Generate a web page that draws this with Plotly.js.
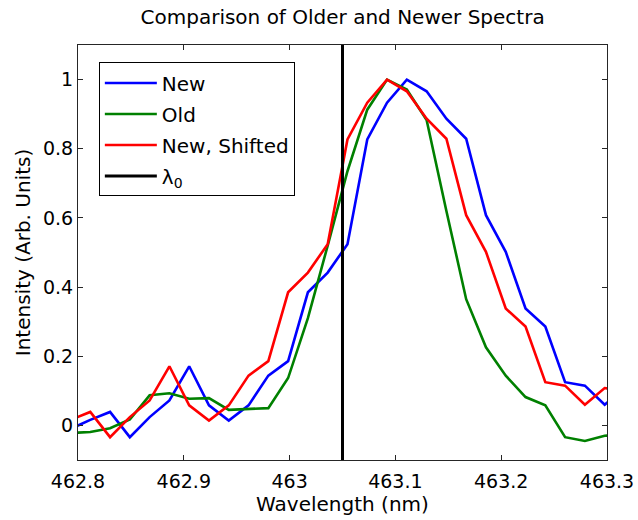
<!DOCTYPE html>
<html>
<head>
<meta charset="utf-8">
<script src="https://cdn.plot.ly/plotly-3.0.1.min.js"></script>
<style>html,body{margin:0;padding:0;background:#fff;}#chart{width:638px;height:520px;}</style>
</head>
<body>
<div id="chart"></div>
<script>
// Wavelength grid (nm)
const wavelength = [462.7929, 462.8116, 462.8303, 462.8490, 462.8677, 462.8864, 462.9051, 462.9238,
  462.9425, 462.9612, 462.9799, 462.9986, 463.0173, 463.0360, 463.0547, 463.0734, 463.0921,
  463.1108, 463.1295, 463.1482, 463.1669, 463.1856, 463.2043, 463.2230, 463.2417, 463.2604,
  463.2791, 463.2978, 463.3165];

const newValues = [-0.010, 0.016, 0.039, -0.034, 0.024, 0.072, 0.171, 0.058, 0.014, 0.058, 0.144,
  0.186, 0.385, 0.442, 0.524, 0.827, 0.933, 1.000, 0.966, 0.887, 0.829, 0.608, 0.502, 0.338,
  0.286, 0.125, 0.115, 0.060, 0.108];

const oldValues = [-0.022, -0.019, -0.008, 0.017, 0.087, 0.093, 0.077, 0.079, 0.045, 0.047, 0.050,
  0.137, 0.310, 0.520, 0.735, 0.913, 1.000, 0.971, 0.883, 0.620, 0.365, 0.226, 0.144, 0.082,
  0.058, -0.034, -0.045, -0.030, -0.025];

const shiftedValues = [0.016, 0.039, -0.034, 0.024, 0.072, 0.171, 0.058, 0.014, 0.058, 0.144, 0.186,
  0.385, 0.442, 0.524, 0.827, 0.933, 1.000, 0.966, 0.887, 0.829, 0.608, 0.502, 0.338, 0.286,
  0.125, 0.115, 0.060, 0.108, 0.100];

const lambda0 = [463.05, 463.05];
const yRange = [-0.1, 1.1];
const xRange = [462.8, 463.3];

const xTickVals = [462.8, 462.9, 463.0, 463.1, 463.2, 463.3];
const xTickText = ['462.8', '462.9', '463', '463.1', '463.2', '463.3'];
const yTickVals = [0, 0.2, 0.4, 0.6, 0.8, 1];
const yTickText = ['0', '0.2', '0.4', '0.6', '0.8', '1'];

const seriesNames = ['New', 'Old', 'New, Shifted', '\u03bb<sub>0</sub>'];

const FONT = 'DejaVu Sans, Liberation Sans, Arial, sans-serif';
const lw = 2.6;

const traces = [
  {x: wavelength, y: newValues, name: seriesNames[0], mode: 'lines', legendgroup: 'a',
   line: {color: '#0000ff', width: lw}},
  {x: wavelength, y: oldValues, name: seriesNames[1], mode: 'lines', legendgroup: 'b',
   line: {color: '#008000', width: lw}},
  {x: wavelength, y: shiftedValues, name: seriesNames[2], mode: 'lines', legendgroup: 'c',
   line: {color: '#ff0000', width: lw}},
  {x: lambda0, y: yRange, name: seriesNames[3], mode: 'lines', legendgroup: 'd',
   line: {color: '#000000', width: 3}}
];

const axisCommon = {
  showgrid: false, zeroline: false, showline: true, mirror: 'ticks',
  linecolor: '#262626', linewidth: 1, ticks: 'inside', ticklen: 5, tickcolor: '#262626',
  tickfont: {family: FONT, size: 19, color: '#000'}
};

const layout = {
  width: 638, height: 520,
  margin: {l: 78, r: 31, t: 45, b: 60},
  paper_bgcolor: '#fff', plot_bgcolor: '#fff',
  font: {family: FONT, color: '#000'},
  title: {text: 'Comparison of Older and Newer Spectra', font: {family: FONT, size: 20, color: '#000'},
    x: 0.537, xanchor: 'center', y: 0.967, yanchor: 'middle'},
  xaxis: Object.assign({}, axisCommon, {
    range: xRange, tickvals: xTickVals, ticktext: xTickText, ticklabelstandoff: 4,
    title: {text: 'Wavelength (nm)', font: {family: FONT, size: 20, color: '#000'}, standoff: 1}
  }),
  yaxis: Object.assign({}, axisCommon, {
    range: yRange, tickvals: yTickVals, ticktext: yTickText,
    title: {text: 'Intensity (Arb. Units)', font: {family: FONT, size: 20, color: '#000'}, standoff: 6}
  }),
  showlegend: true,
  legend: {
    x: 0.0394, y: 0.958, xanchor: 'left', yanchor: 'top',
    bordercolor: '#000', borderwidth: 1, bgcolor: '#fff',
    font: {family: FONT, size: 20, color: '#000'},
    tracegroupgap: 2, itemwidth: 52
  }
};

Plotly.newPlot('chart', traces, layout, {displayModeBar: false, staticPlot: true});
</script>
</body>
</html>
